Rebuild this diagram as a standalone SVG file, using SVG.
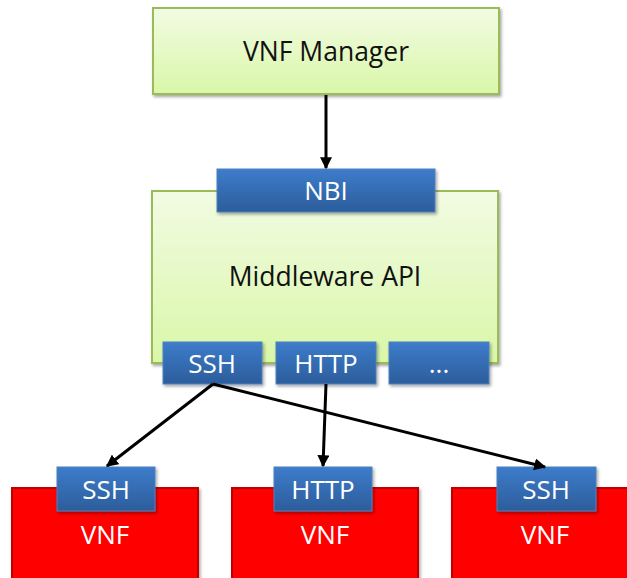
<svg xmlns="http://www.w3.org/2000/svg" width="627" height="578" viewBox="0 0 627 578">
  <defs>
    <linearGradient id="gGreen" x1="0" y1="0" x2="0" y2="1">
      <stop offset="0" stop-color="#f2fbe3"/>
      <stop offset="1" stop-color="#d9f7a8"/>
    </linearGradient>
    <linearGradient id="gBlue" x1="0" y1="0" x2="0" y2="1">
      <stop offset="0" stop-color="#3d7ccb"/>
      <stop offset="1" stop-color="#2c5d9b"/>
    </linearGradient>
    <filter id="shadow" x="-10%" y="-10%" width="125%" height="130%">
      <feDropShadow dx="1.5" dy="2" stdDeviation="1.5" flood-color="#000" flood-opacity="0.35"/>
    </filter>
    <marker id="arrow" viewBox="0 0 10 10" refX="9" refY="5" markerWidth="4" markerHeight="4" orient="auto" markerUnits="strokeWidth">
      <path d="M0,0 L10,5 L0,10 Z" fill="#000"/>
    </marker>
  </defs>
  <style>
    .green { fill: url(#gGreen); stroke: #9bbb59; stroke-width: 2; filter: url(#shadow); }
    .port { fill: url(#gBlue); stroke: #4f81bd; stroke-width: 1; filter: url(#shadow); }
    .vnf { fill: #ff0000; stroke: #c00000; stroke-width: 2; filter: url(#shadow); }
    .dark { font-family: "Open Sans", "Liberation Sans", sans-serif; font-size: 26.5px; fill: #111; text-anchor: middle; dominant-baseline: central; }
    .light { font-family: "Open Sans", "Liberation Sans", sans-serif; font-size: 26px; fill: #fff; text-anchor: middle; dominant-baseline: central; }
    .conn { stroke: #000; stroke-width: 3; fill: none; marker-end: url(#arrow); }
  </style>

  <!-- VNF Manager -->
  <g id="vnf-manager">
    <rect class="green" x="153" y="8" width="346" height="86"/>
    <text class="dark" x="326" y="51">VNF Manager</text>
  </g>

  <!-- Middleware API with its interfaces -->
  <g id="middleware-api">
    <rect class="green" x="152" y="191" width="346" height="172"/>
    <text class="dark" x="325" y="276">Middleware API</text>
  </g>
  <g id="nbi">
    <rect class="port" x="217" y="169" width="218" height="43"/>
    <text class="light" x="326" y="190">NBI</text>
  </g>
  <g id="mw-ssh">
    <rect class="port" x="163" y="342" width="99" height="42"/>
    <text class="light" x="212" y="363">SSH</text>
  </g>
  <g id="mw-http">
    <rect class="port" x="276" y="342" width="100" height="42"/>
    <text class="light" x="326" y="363">HTTP</text>
  </g>
  <g id="mw-more">
    <rect class="port" x="389" y="342" width="100" height="42"/>
    <text class="light" x="439" y="363">...</text>
  </g>

  <!-- VNF instances -->
  <g id="vnf-1">
    <rect class="vnf" x="12" y="488" width="186" height="100"/>
    <rect class="port" x="57" y="467" width="98" height="44"/>
    <text class="light" x="106" y="489">SSH</text>
    <text class="light" x="105" y="534">VNF</text>
  </g>
  <g id="vnf-2">
    <rect class="vnf" x="232" y="488" width="186" height="100"/>
    <rect class="port" x="274" y="467" width="98" height="44"/>
    <text class="light" x="323" y="489">HTTP</text>
    <text class="light" x="325" y="534">VNF</text>
  </g>
  <g id="vnf-3">
    <rect class="vnf" x="452" y="488" width="186" height="100"/>
    <rect class="port" x="497" y="467" width="99" height="44"/>
    <text class="light" x="546" y="489">SSH</text>
    <text class="light" x="545" y="534">VNF</text>
  </g>

  <!-- Connectors -->
  <g id="connectors">
    <line class="conn" x1="326" y1="95" x2="326" y2="168"/>
    <line class="conn" x1="213" y1="384" x2="107" y2="466"/>
    <line class="conn" x1="326" y1="384" x2="323" y2="466"/>
    <line class="conn" x1="213" y1="384" x2="545" y2="467"/>
  </g>
</svg>
